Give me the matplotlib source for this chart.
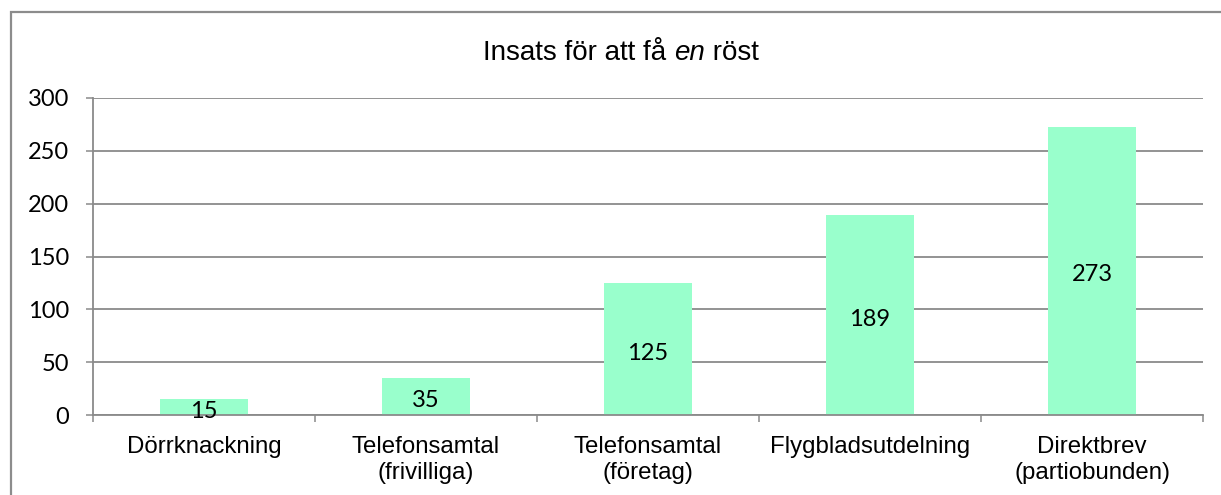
import matplotlib
matplotlib.use("Agg")
import matplotlib.pyplot as plt
from matplotlib.patches import Rectangle

categories = ["Dörrknackning", "Telefonsamtal\n(frivilliga)", "Telefonsamtal\n(företag)",
              "Flygbladsutdelning", "Direktbrev\n(partiobunden)"]
values = [15, 35, 125, 189, 273]
yticks = [0, 50, 100, 150, 200, 250, 300]
title_parts = [("Insats för att få ", "normal"), ("en", "italic"), (" röst", "normal")]

W, H = 1221, 495
fig = plt.figure(figsize=(W / 100, H / 100), dpi=100)
fig.patch.set_facecolor("white")

grid_col = "#8a8a8a"
bar_col = "#99FFCC"

# outer chart border (cut at right and bottom)
fig.patches.append(Rectangle((11 / W, -0.1), 1.2, (H - 12) / H + 0.1, transform=fig.transFigure,
                             fill=False, edgecolor="#8c8c8c", linewidth=1.6, zorder=0))

ax = fig.add_axes([93 / W, 1 - 415 / H, (1203 - 93) / W, (415 - 98) / H])
x = list(range(len(categories)))
ax.bar(x, values, width=0.4, color=bar_col, zorder=2)
ax.set_xlim(-0.5, len(categories) - 0.5)
ax.set_ylim(0, 300)

ax.set_yticks(yticks)
ax.set_yticklabels([str(v) for v in yticks], fontfamily="Lato", fontsize=17)
ax.yaxis.grid(True, color=grid_col, linewidth=1.3, zorder=1)
ax.set_axisbelow(True)
ax.tick_params(axis="y", direction="out", length=5, width=1.1, color=grid_col, pad=12)

ax.set_xticks([i - 0.5 for i in range(len(categories) + 1)])
ax.set_xticklabels([])
ax.set_xticks(x, minor=True)
ax.set_xticklabels(categories, minor=True, fontfamily="Liberation Sans", fontsize=17.3,
                   linespacing=1.25)
ax.tick_params(axis="x", which="major", direction="out", length=5, width=1.1, color=grid_col)
ax.tick_params(axis="x", which="minor", length=0, pad=15)

for s in ["top", "right"]:
    ax.spines[s].set_visible(False)
ax.spines["left"].set_color(grid_col)
ax.spines["left"].set_linewidth(1.3)
ax.spines["bottom"].set_color(grid_col)
ax.spines["bottom"].set_linewidth(1.3)

for xi, v in zip(x, values):
    ax.annotate(str(v), (xi, v / 2), xytext=(0, -3), textcoords="offset points",
                ha="center", va="center", fontfamily="Lato", fontsize=17,
                color="black", zorder=3)

# title with italic word
renderer = fig.canvas.get_renderer()
pieces = []
total = 0
for txt, style in title_parts:
    t = fig.text(0, 0, txt, fontfamily="Liberation Sans", fontstyle=style, fontsize=20)
    w = t.get_window_extent(renderer).width
    pieces.append((t, w))
    total += w
cx = 621
xs = cx - total / 2
for t, w in pieces:
    t.set_position((xs / W, 1 - 60 / H))
    t.set_va("baseline")
    xs += w

fig.savefig("out.png", dpi=100, facecolor="white")
